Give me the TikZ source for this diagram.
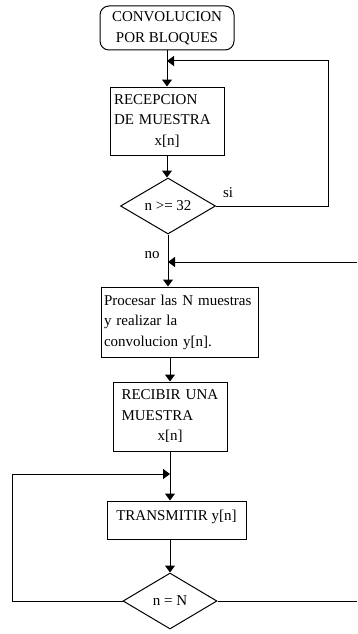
\documentclass[tikz,border=0pt]{standalone}
\usepackage{fontspec}
\setmainfont{Liberation Serif}
\usetikzlibrary{shapes.geometric,arrows.meta}

\begin{document}
\begin{tikzpicture}[x=1pt,y=-1pt,
    caja/.style={draw,line width=1pt,rectangle,inner sep=0pt,font=\fontsize{15}{20.5}\selectfont},
    decision/.style={draw,line width=1pt,diamond,aspect=2,inner sep=0pt,font=\fontsize{15}{18}\selectfont},
    flujo/.style={line width=1pt},
    flecha/.style={flujo,-{Triangle[width=10pt,length=7pt]}},
    etiq/.style={font=\fontsize{15}{18}\selectfont}]
    \useasboundingbox[fill=white] (0,0) rectangle (357,634);

    \node [caja,rounded corners=9pt,minimum width=134pt,minimum height=44pt,align=center] (inicio) at (167,28) {CONVOLUCION\\POR BLOQUES};
    \node [caja,minimum width=114pt,minimum height=68pt,text width=106pt,align=left] (recep) at (167,121) {RECEPCION\\DE MUESTRA\\\makebox[\linewidth]{x[n]}};
    \node [decision,minimum width=95pt,minimum height=56pt] (cond1) at (168,206) {n >= 32};
    \node [etiq] (si) at (228,193) {si};
    \node [etiq] (no) at (152,255) {no};
    \node [caja,minimum width=157pt,minimum height=70pt,text width=151pt,align=left] (proc) at (179.5,322) {Procesar las N muestras\\y realizar la\\convolucion y[n].};
    \node [caja,minimum width=114pt,minimum height=69pt,text width=97pt,align=left] (recib) at (170,416.5) {RECIBIR UNA\\MUESTRA\\\makebox[\linewidth]{x[n]}};
    \node [caja,minimum width=139pt,minimum height=38pt,text depth=9pt] (trans) at (176.5,520) {TRANSMITIR y[n]};
    \node [decision,minimum width=94pt,minimum height=56pt] (cond2) at (170,601) {n = N};

    \coordinate (j1) at (167,61);
    \coordinate (j2) at (168,262);
    \coordinate (r2) at (357,262);
    \coordinate (j3) at (170,474);
    \coordinate (r3) at (357,601);

    \draw [flecha] (inicio.south) -- (recep.north);
    \draw [flecha] (cond1.east) -- ++(112,0) |- (j1);
    \draw [flecha] (recep.south) -- (recep.south |- cond1.north);
    \draw [flecha] (cond1.south) -- (cond1.south |- proc.north);
    \draw [flecha] (r2) -- (j2);
    \draw [flecha] (recib.north |- proc.south) -- (recib.north);
    \draw [flecha] (recib.south) -- (recib.south |- trans.north);
    \draw [flecha] (recib.south |- trans.south) -- (cond2.north);
    \draw [flecha] (cond2.west) -- ++(-110,0) |- (j3);
    \draw [flujo] (cond2.east) -- (r3);
\end{tikzpicture}
\end{document}
